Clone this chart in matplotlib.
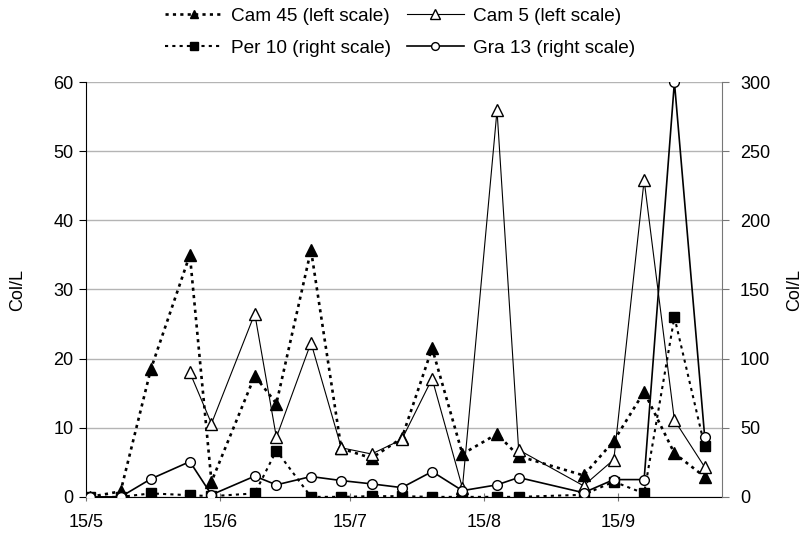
import matplotlib
matplotlib.use("Agg")
import matplotlib.pyplot as plt
import pandas as pd

plt.rcParams['font.family'] = ['Liberation Sans', 'DejaVu Sans']

# sampling dates (day/month)
dates = ["16/5", "23/5", "30/5", "8/6", "13/6", "23/6", "28/6", "6/7", "13/7", "20/7",
         "27/7", "3/8", "10/8", "18/8", "23/8", "7/9", "14/9", "21/9", "28/9", "5/10"]

# left scale
cam45 = [0, 0.8, 18.5, 35, 2.2, 17.5, 13.5, 35.7, 7, 5.6,
         8.5, 21.5, 6.2, 9.1, 5.9, 3.1, 8.1, 15.2, 6.3, 2.9]
cam5 = [None, None, None, 18, 10.6, 26.5, 8.6, 22.3, 7.1, 6.2,
        8.3, 17.1, 1.3, 55.9, 6.8, 1.6, 5.4, 45.8, 11.1, 4.3]

# right scale
per10 = [0, 0, 2.5, 1.2, 0.5, 2.5, 33.5, 0, 0, 0.5,
         0.5, 0, 0, 0, 0, 1.5, 11, 2.5, 130, 36.5]
gra13 = [0, 0, 13, 25.5, 1.5, 15, 8.7, 14.7, 11.8, 9.4,
         6.7, 18.3, 4.5, 8.7, 14, 3, 12.5, 12.5, 300, 43.5]

tick_labels = ["15/5", "15/6", "15/7", "15/8", "15/9"]

x = pd.to_datetime([d + "/2003" for d in dates], format="%d/%m/%Y")
cam5_s = pd.Series(cam5, dtype=float)

fig = plt.figure(figsize=(8.04, 5.36), dpi=100)
ax = fig.add_axes([0.107, 0.073, 0.791, 0.774])
ax2 = ax.twinx()

l1, = ax.plot(x, cam45, color='black', lw=1.9, ls=(0, (1.2, 1.6)),
              marker='^', ms=8, mfc='black', mec='black', label='Cam 45 (left scale)')
l2, = ax.plot(x, cam5_s, color='black', lw=0.8, ls='-',
              marker='^', ms=9, mfc='white', mec='black', mew=1.0, label='Cam 5 (left scale)')
l3, = ax2.plot(x, per10, color='black', lw=1.5, ls=(0, (1.5, 2)),
               marker='s', ms=7, mfc='black', mec='black', label='Per 10 (right scale)')
l4, = ax2.plot(x, gra13, color='black', lw=1.2, ls='-',
               marker='o', ms=7, mfc='white', mec='black', mew=1.0, label='Gra 13 (right scale)')

ax.set_xlim(pd.Timestamp("2003-05-15"), pd.Timestamp("2003-10-09"))
ax.set_ylim(0, 60)
ax2.set_ylim(0, 300)
ax.set_yticks(range(0, 61, 10))
ax2.set_yticks(range(0, 301, 50))
ticks = pd.to_datetime([t + "/2003" for t in tick_labels], format="%d/%m/%Y")
ax.set_xticks(ticks)
ax.set_xticklabels(tick_labels)

ax.grid(axis='y', color='#b4b4b4', lw=1.0)
ax.set_axisbelow(True)

for a in (ax, ax2):
    a.spines['top'].set_visible(False)
ax.spines['right'].set_visible(False)
ax2.spines['left'].set_visible(False)
ax2.spines['bottom'].set_visible(False)
ax2.spines['right'].set_color('#777777')

ax.tick_params(axis='y', labelsize=13, length=5, direction='out', pad=4)
ax.tick_params(axis='x', labelsize=13, length=6, direction='inout', color='#777777', pad=9)
ax2.tick_params(axis='y', labelsize=13, length=5, direction='out', color='#777777', pad=8)

fig.text(18 / 804, 1 - 290 / 536, "Col/L", rotation=90, ha='center', va='center', fontsize=13)
fig.text(795 / 804, 1 - 290 / 536, "Col/L", rotation=90, ha='center', va='center', fontsize=13)

fig.legend([l1, l3, l2, l4], [l.get_label() for l in (l1, l3, l2, l4)],
           loc='upper left', bbox_to_anchor=(151 / 804, 1.012), ncol=2, frameon=False,
           fontsize=13.7, handlelength=3.0, columnspacing=0.8, handletextpad=0.47,
           labelspacing=0.75, borderpad=0.25, markerscale=0.8)

fig.savefig("out.png", dpi=100)
